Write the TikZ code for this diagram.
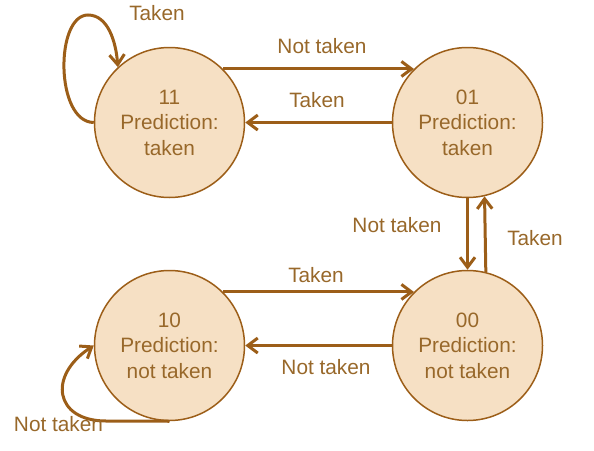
\documentclass[tikz,border=0pt]{standalone}
\usepackage{fontspec}
\setmainfont{Liberation Sans}
\usetikzlibrary{arrows.meta}
\definecolor{edgebrown}{RGB}{156,94,24}
\definecolor{statefill}{RGB}{246,224,196}
\definecolor{txtbrown}{RGB}{152,104,42}
\tikzset{
  state/.style={circle, draw=edgebrown, line width=1.5pt, fill=statefill,
    minimum size=150pt, inner sep=0pt, align=center, text=txtbrown,
    font=\fontsize{20.8pt}{25.5pt}\selectfont},
  trans/.style={draw=edgebrown, line width=3pt,
    -{Straight Barb[length=10pt,width=15pt,line width=3pt]}},
  lbl/.style={text=txtbrown, font=\fontsize{20.8pt}{25pt}\selectfont, inner sep=0pt}
}
\begin{document}
\begin{tikzpicture}[x=1pt,y=-1pt]
\useasboundingbox (0,0) rectangle (594,450);
\node[state] (s11) at (169.5,122.5) {11\\Prediction:\\taken};
\node[state] (s01) at (467.5,122.5) {01\\Prediction:\\taken};
\node[state] (s10) at (169.5,345.5) {10\\Prediction:\\not taken};
\node[state] (s00) at (467.5,345.5) {00\\Prediction:\\not taken};

% top row
\draw[trans] (s11.45) -- (s01.135);
\draw[trans] (s01.west) -- (s11.east);
% bottom row
\draw[trans] (s10.45) -- (s00.135);
\draw[trans] (s00.west) -- (s10.east);
% vertical
\draw[trans] (s01.south) -- (s00.north);
\draw[trans] (s00.76.6) -- (s01.283.4);

% self loops
\coordinate (t11) at (88,15);
\draw[trans] (s11.west) .. controls (55,122) and (55,15) .. (t11)
  .. controls (108,15) and (116,42) .. (s11.133);
\coordinate (b10) at (106,421);
\draw[trans] (s10.south) -- (b10) .. controls (55,421) and (47,376) .. (s10.west);

% labels
\node[lbl] (l1) at (322,46) {Not taken};
\node[lbl] (l2) at (317,100) {Taken};
\node[lbl] (l3) at (397,225) {Not taken};
\node[lbl] (l4) at (535,238) {Taken};
\node[lbl] (l5) at (316,275) {Taken};
\node[lbl] (l6) at (326,367) {Not taken};
\node[lbl] (l7) at (157,13) {Taken};
\node[lbl] (l8) at (58.5,424) {Not taken};
\end{tikzpicture}
\end{document}
